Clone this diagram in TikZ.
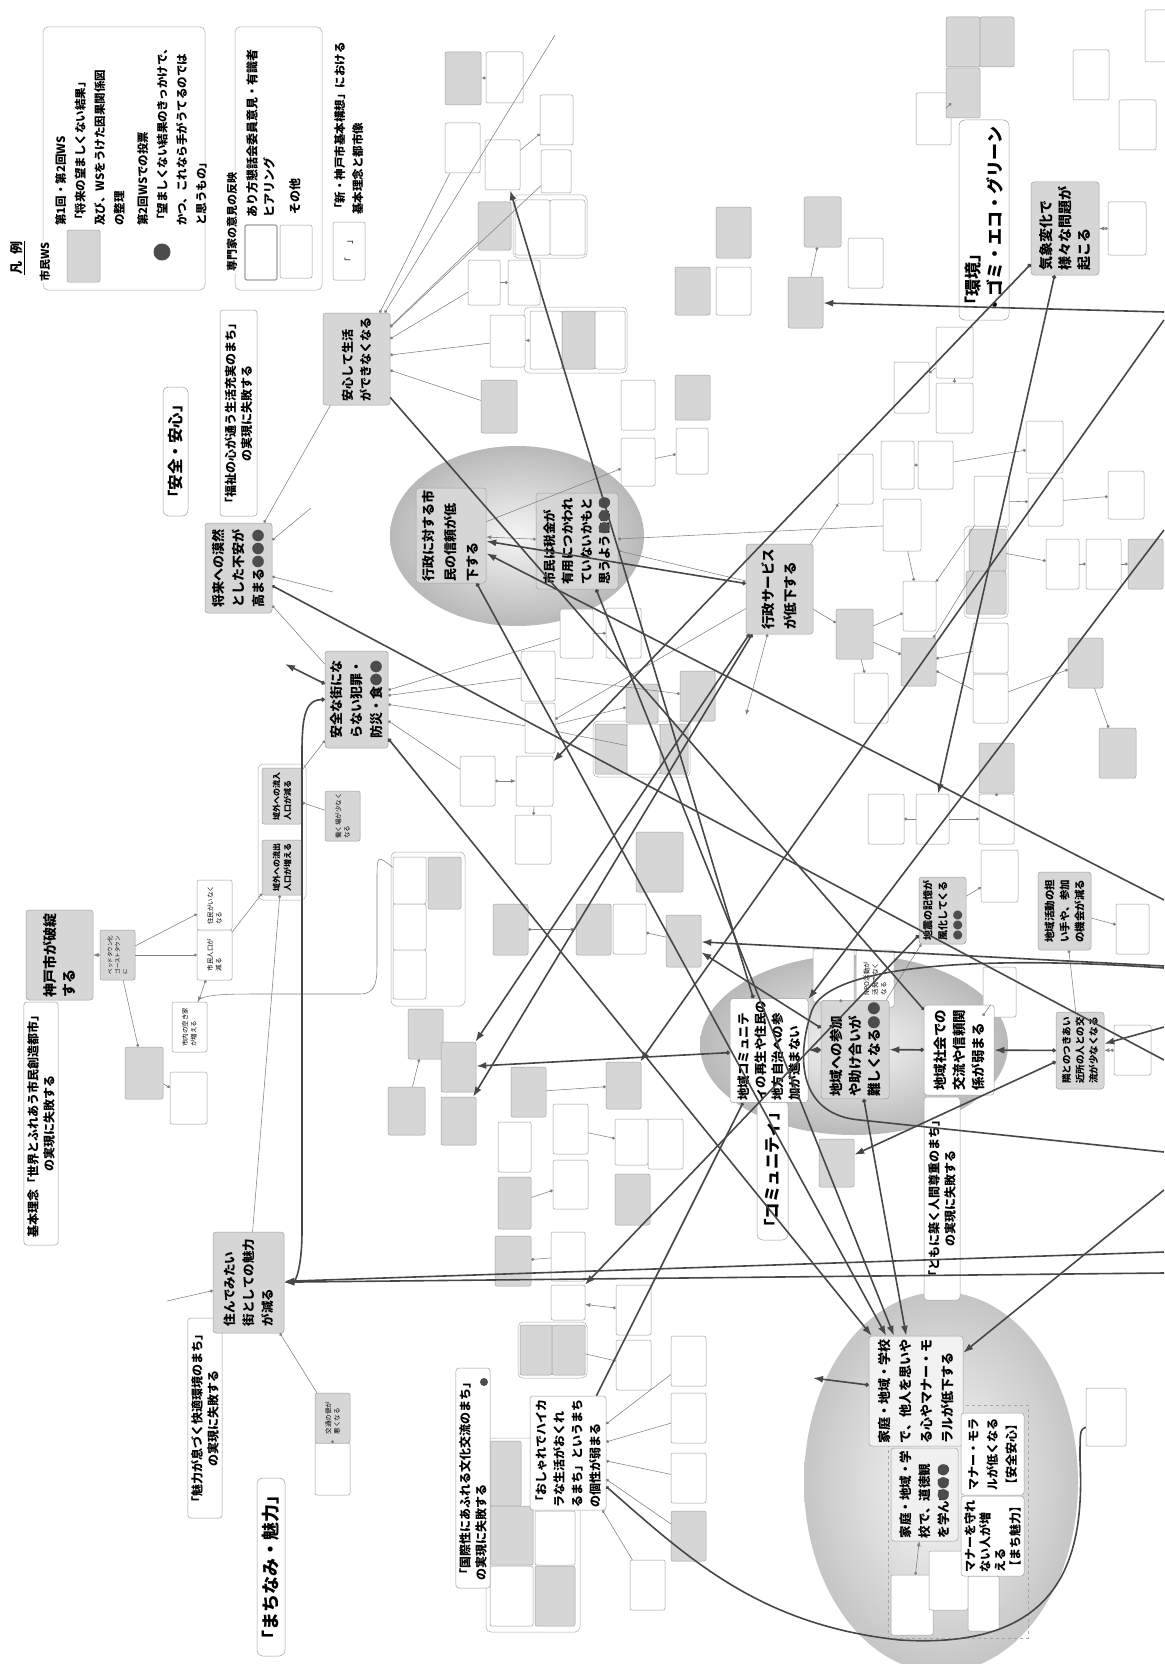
\documentclass[tikz,border=0pt]{standalone}
\usepackage{fontspec}
\setmainfont{Noto Sans CJK JP}
\usetikzlibrary{arrows.meta}
\definecolor{gb}{gray}{0.84}
\definecolor{wb}{gray}{1}
\newcommand\votedots[1]{\textcolor{black!70}{#1}}
\begin{document}
\begin{tikzpicture}[x=1pt,y=-1pt,line width=0.5pt,
    sbox/.style={draw=gray!75,rounded corners=2pt,inner sep=0pt},
    tbox/.style={draw=gray!75,rounded corners=2pt,rotate=90,inner sep=1pt,align=left,
      font=\fontsize{6.5}{8.5}\selectfont},
    mainbox/.style={draw=gray!75,rounded corners=3pt,rotate=90,inner sep=2pt,align=left,
      font=\bfseries\fontsize{12.5}{19}\selectfont},
    goalbox/.style={draw=gray!75,fill=white,rounded corners=3pt,rotate=90,align=center,
      font=\bfseries\fontsize{12}{16}\selectfont},
    themebox/.style={draw=gray!75,fill=white,rounded corners=6pt,rotate=90,align=left,
      font=\bfseries\fontsize{17}{22}\selectfont},
    grp/.style={draw=gray!65,rounded corners=5pt},
    lgtext/.style={rotate=90,anchor=north west,align=left,inner sep=0pt,
      font=\bfseries\fontsize{11.5}{19.5}\selectfont},
    heavy/.style={draw=black!72,line width=1.6pt},
    thin/.style={draw=black!50,line width=0.55pt},
    dotarrow/.style={{Circle[length=4pt]}-{Latex[length=10pt,width=7pt]}},
    tiparrow/.style={-{Latex[length=10pt,width=7pt]}},
    dotline/.style={{Circle[length=3pt]}-},
    thinarrow/.style={{Circle[length=3pt]}-{Latex[length=5pt,width=4pt]}}]

\useasboundingbox (0,0) rectangle (1164,1664);
\fill[white] (0,0) rectangle (1164,1664);

\shade[inner color=gray!8,outer color=gray!55] (517,536) ellipse [x radius=127,y radius=90];
\shade[inner color=gray!8,outer color=gray!55] (854,1045) ellipse [x radius=154,y radius=90];
\shade[inner color=gray!5,outer color=gray!45] (941,1482) ellipse [x radius=137,y radius=190];

\node[grp,minimum width=162,minimum height=263] (leg1) at (124,158.5) {};
\node[grp,minimum width=87,minimum height=263] (leg2) at (278.5,158.5) {};
\node[rotate=90,font=\bfseries\fontsize{13}{13}\selectfont] (legtitle) at (18,258) {\underline{凡\hspace{0.6em}例}};
\node[rotate=90,fill=white,inner sep=1pt,font=\bfseries\fontsize{11}{11}\selectfont] (legws) at (45,262) {市民WS};
\node[sbox,fill=gb,minimum width=33,minimum height=52] (legsw) at (83.5,256) {};
\node[lgtext] (legt1) at (55,226) {第1回・第2回WS\\「将来の望ましくない結果」\\及び、WSをうけた因果関係図\\の整理};
\node[circle,fill=black!70,minimum size=17,inner sep=0pt] (legdot) at (162,252) {};
\node[lgtext] (legt2) at (137,226) {第2回WSでの投票\\「望ましくない結果のきっかけで、\\かつ、これなら手がうてるのでは\\と思うもの」};
\node[rotate=90,fill=white,inner sep=1pt,font=\bfseries\fontsize{11}{11}\selectfont] (legpro) at (232,222) {専門家の意見の反映};
\node[sbox,line width=1.2pt,minimum width=32,minimum height=55] (legsw2) at (261,252.5) {};
\node[sbox,minimum width=32,minimum height=53] (legsw3) at (296,251.5) {};
\node[lgtext,font=\bfseries\fontsize{12}{17}\selectfont] (legt3) at (246,218) {あり方懇話会委員意見・有識者\\ヒアリング};
\node[lgtext,font=\bfseries\fontsize{12}{17}\selectfont] (legt4) at (289,215) {その他};
\node[sbox,rotate=90,minimum width=58,minimum height=32,font=\fontsize{9}{9}\selectfont] (legsw4) at (349,251) {「\hspace{1.5em}」};
\node[lgtext,font=\bfseries\fontsize{11.5}{18}\selectfont] (legt5) at (334,215) {「新・神戸市基本構想」における\\基本理念と都市像};

\foreach \n/\x/\y/\w/\h in {g1/282/832/48/136, g2/550/226.5/74/63, g3/575.5/340/103/66,
    g4/641.5/749/97/56, g5/428/929/74/154, g6/552.5/1350/69/56, g7/533/1535/94/194,
    g8/986/572/44/92}
  \node[grp,minimum width=\w,minimum height=\h] (\n) at (\x,\y) {};
\node[draw=gray!70,dashed,minimum width=140,minimum height=233] (kgrp) at (958,1521.5) {};

\foreach \n/\x/\y/\w/\h/\f in {
    s1/463/78.5/36/53/gb, s2/504.5/77.5/37/51/wb, s3/462.5/148/35/50/wb, s4/502.5/165/35/50/wb,
    s5/556.5/120/33/50/wb, s6/556/171.5/30/43/wb, s7/494.5/226/33/48/gb, s8a/532.5/227.5/35/55/wb,
    s8b/567.5/227.5/35/55/wb, s9/484/282.5/32/45/wb, s10/524/282.5/32/45/wb, s11/507.5/341/35/52/wb,
    s12a/546/340/32/58/wb, s12b/578.5/340/33/58/gb, s12c/610/340/30/58/wb, s13/499/406.5/36/53/gb,
    s14/638/405/34/50/wb, s15/692.5/397.5/35/45/gb, s16/692.5/291/35/48/gb, s17/733.5/291/35/48/wb,
    s18/733.5/232.5/35/51/gb, s19/822.5/222/37/50/gb, s20/865.5/263/35/50/wb, s21/933.5/119/35/52/wb,
    s22a/963/42/34/50/gb, s22b/997/42/34/50/gb, s22c/963/93/34/50/gb, s23/1091/75/36/50/wb,
    s24/1137.5/125/37/50/wb, s25/1127/228.5/38/53/wb, s26/954.5/352.5/37/51/wb, s27/911.5/387.5/35/51/wb,
    s28/954.5/408/37/50/wb, s29/1160/36/30/52/wb, s30/638/462/34/48/wb, s31/692/451/32/46/wb,
    s32/576.5/633.5/33/49/wb, s33/623.5/633/35/50/wb, s34/538/676/34/50/wb, s35/540/728/30/50/wb,
    s36/642/703.5/32/39/gb, s37/697.5/696/35/50/gb, s38a/611/749/32/50/gb, s38b/643.5/749/33/50/wb,
    s38c/674/749/28/50/gb, K1/534.5/781/37/50/wb, s39/477.5/781/35/50/wb, s40/855.5/479/35/50/wb,
    s41/897.5/465/33/48/wb, s42/935.5/465/35/48/wb, s43/902/525/38/52/wb, s44/919.5/606/33/50/wb,
    s45/854.5/634/37/50/gb, s46/918.5/662/35/48/gb, s47/871/698/34/50/wb, s48/991.5/501/35/50/wb,
    s49/987.5/550/37/42/gb, s50/986/592.5/40/43/gb, s51/990.5/648/35/50/wb, s52/990.5/698.5/35/49/wb,
    s53/1044.5/447/37/52/wb, s54/1045.5/502/35/48/wb, s55/1062.5/564/33/50/wb, s56/1103.5/564/35/50/wb,
    s57/1145.5/564/35/50/gb, s58/1126/495/36/48/wb, s59/1085.5/663/35/50/gb, s60/1117.5/753/37/50/gb,
    s61/996.5/768/35/50/gb, s62/996.5/819/35/50/wb, s63/932.5/819/33/50/wb, s64/886/819/36/50/wb,
    s65/533/839.5/36/49/wb, s66/659.5/862/47/60/gb, s67a/409.5/880.5/33/47/wb, s67b/444.5/883/33/52/gb,
    s67c/409.5/927/33/46/wb, s67d/409.5/974.5/33/49/wb, s68/510.5/929.5/35/51/gb, s69/593.5/929.5/35/51/gb,
    s70/629.5/929/33/50/wb, s71/683.5/941/35/52/gb, s72/425.5/1034/35/50/gb, G1/458.5/1067/35/50/gb,
    G2/458.5/1121/35/48/gb, s73/406.5/1111/37/48/gb, s74/528.5/1092/35/50/gb, s75/623.5/1085.5/35/47/gb,
    s76/570.5/1129/35/50/wb, s77/631.5/1142/33/46/wb, s78/665.5/1144/35/50/wb, s79/632.5/1199.5/35/51/gb,
    s80/570.5/1184.5/35/49/wb, s81/514.5/1203/33/52/gb, s82/514.5/1147/33/50/wb, s83/833.5/975.5/41/53/wb,
    s85/999.5/992/33/50/wb, s86/1132.5/929/33/50/wb, s87/1132.5/1050/37/50/wb, s88/999.5/876/37/52/wb,
    rinjin/836.5/1163/35/48/gb, s93/144/1073/38/52/gb, s94/188.5/1098/37/52/wb, s95/332.5/1469/35/52/wb,
    s96/688.5/1361/35/50/wb, s97/688.5/1418/35/50/wb, s98/688.5/1478/35/50/wb, s99/688.5/1536/35/50/gb,
    s100/647.5/1585/35/50/wb, s101/633.5/1365/35/50/wb, s102/633.5/1310/35/50/wb, s103a/536/1350/32/50/gb,
    s103b/568.5/1350/33/50/gb, s104a/505.5/1473.5/31/65/gb, s104b/511.5/1535.5/43/59/gb,
    s104c/511.5/1596/43/60/wb, s104d/555/1596/40/60/gb, s104e/555/1538/40/54/wb, s105/568/1256.5/34/49/wb,
    s106/568/1302.5/34/35/wb, s107/513/1261/36/50/gb, s108/912/1605/42/60/wb, s109/948.5/1580.5/39/59/wb,
    s110/983.5/1603.5/31/55/wb, s111/1106/1417/40/58/wb, ozon/805.5/302.5/35/51/gb}
  \node[sbox,fill=\f,minimum width=\w,minimum height=\h] (\n) at (\x,\y) {};

\node[tbox,fill=gb,minimum width=56,minimum height=40,font=\bfseries\fontsize{8}{11}\selectfont] (ryunyu) at (282,796) {域外への流入\\人口が減る};
\node[tbox,fill=gb,minimum width=55,minimum height=40,font=\bfseries\fontsize{8}{11}\selectfont] (ryushutsu) at (282,867.5) {域外への流出\\人口が増える};
\node[tbox,fill=gb,minimum width=50,minimum height=35] (hataraku) at (342.5,816) {働く場が少なく\\なる};
\node[tbox,fill=gb,minimum width=50,minimum height=35,font=\fontsize{5.5}{7.5}\selectfont] (bed) at (117.5,955) {ベッドタウン化\\ゴーストタウン\\に};
\node[tbox,fill=wb,minimum width=50,minimum height=35] (s90) at (214.5,905) {住民がいなく\\なる};
\node[tbox,fill=wb,minimum width=50,minimum height=35] (s91) at (214.5,955) {市民人口が\\減る};
\node[tbox,fill=wb,minimum width=50,minimum height=35] (s92) at (189.5,1027) {市内の空き家\\が増える};
\node[tbox,fill=gb,minimum width=50,minimum height=35] (kotsu) at (332.5,1418) {交通の便が\\悪くなる};
\node[tbox,fill=wb,minimum width=57,minimum height=38] (s84) at (875,978.5) {NPO活動が\\活発でなく\\なる};

\node[themebox,minimum width=129,minimum height=25,font=\bfseries\fontsize{15.5}{15.5}\selectfont] (anzenT) at (175.5,451.5) {「安全・安心」};
\node[themebox,minimum width=200,minimum height=50] (kankyoT) at (984,220) {「環境」\\・ゴミ・エコ・グリーン};
\node[themebox,minimum width=178,minimum height=28,font=\bfseries\fontsize{18}{18}\selectfont] (machiT) at (271,1567) {「まちなみ・魅力」};
\node[themebox,minimum width=140,minimum height=31,font=\bfseries\fontsize{16.5}{16.5}\selectfont] (commT) at (772.5,1170) {「コミュニティ」};

\node[goalbox,minimum width=206,minimum height=37] (fukushiG) at (238.5,413) {「福祉の心が通う生活充実のまち」\\の実現に失敗する};
\node[goalbox,minimum width=200,minimum height=34] (miryokuG) at (205,1418) {「魅力が息づく快適環境のまち」\\の実現に失敗する};
\node[goalbox,align=left,minimum width=220,minimum height=34] (kokusaiG) at (473,1478) {「国際性にあふれる文化交流のまち」\\の実現に失敗する};
\node[circle,fill=black!70,minimum size=8,inner sep=0pt] (kokusaiDot) at (484,1382) {};
\node[goalbox,minimum width=243,minimum height=32] (kihonG) at (41,1123.5) {基本理念「世界とふれあう市民創造都市」\\の実現に失敗する};
\node[goalbox,minimum width=203,minimum height=36] (tomoniG) at (942,1198.5) {「ともに築く人間尊重のまち」\\の実現に失敗する};

\node[mainbox,fill=gb,minimum width=92,minimum height=67,font=\bfseries\fontsize{12}{18}\selectfont] (anshin) at (356.5,359) {安心して生活\\ができなくなる};
\node[mainbox,fill=gb,minimum width=90,minimum height=67,font=\bfseries\fontsize{13}{20}\selectfont] (shorai) at (238.5,568) {将来への漠然\\とした不安が\\高まる\votedots{●●●}};
\node[mainbox,fill=gb,minimum width=97,minimum height=63,font=\bfseries\fontsize{13}{20}\selectfont] (anzen) at (356.5,699.5) {安全な街にな\\らない犯罪・\\防災・食\votedots{●●}};
\node[mainbox,fill=gb,minimum width=101,minimum height=71] (sumitai) at (248.5,1282.5) {住んでみたい\\街としての魅力\\が減る};
\node[mainbox,fill=gb,minimum width=90,minimum height=67,font=\bfseries\fontsize{14}{19}\selectfont] (kobe) at (59.5,955) {神戸市が破綻\\する};
\node[mainbox,fill=gb,minimum width=95,minimum height=70,font=\bfseries\fontsize{13}{22}\selectfont] (shinrai) at (451,535.5) {行政に対する市\\民の信頼が低\\下する};
\node[mainbox,fill=gb,minimum width=96,minimum height=82,font=\bfseries\fontsize{12.5}{18.5}\selectfont] (zeikin) at (577,541) {市民は税金が\\有用につかわれ\\ていないかもと\\思うようになる\llap{\votedots{●●●}}};
\node[mainbox,fill=gb,minimum width=90,minimum height=67,font=\bfseries\fontsize{13.5}{22}\selectfont] (gyosvc) at (779.5,589) {行政サービス\\が低下する};
\node[mainbox,fill=gb,minimum width=93,minimum height=68,font=\bfseries\fontsize{14}{19}\selectfont] (kisho) at (1065,228.5) {気象変化で\\様々な問題が\\起こる};
\node[mainbox,fill=white,minimum width=103,minimum height=78,font=\bfseries\fontsize{12.5}{17}\selectfont] (chcomm) at (769,1050.5) {地域コミュニテ\\ィの再生や住民の\\地方自治への参\\加が進まない};
\node[mainbox,fill=gb,minimum width=89,minimum height=68,font=\bfseries\fontsize{13.5}{19}\selectfont] (chsanka) at (855,1049.5) {地域への参加\\や助け合いが\\難しくなる\votedots{●●}};
\node[mainbox,fill=white,minimum width=90,minimum height=70,font=\bfseries\fontsize{13.5}{19}\selectfont] (chshakai) at (959,1050) {地域社会での\\交流や信頼関\\係が弱まる};
\node[mainbox,fill=gb,minimum width=77,minimum height=48,font=\bfseries\fontsize{9.5}{13.5}\selectfont] (tonari) at (1080,1050.5) {隣とのつきあい\\近所の人との交\\流が少なくなる};
\node[mainbox,fill=gb,minimum width=67,minimum height=47,font=\bfseries\fontsize{10}{15}\selectfont] (jishin) at (942.5,910.5) {地震の記憶が\\風化してくる\\\votedots{●●●}};
\node[mainbox,fill=gb,minimum width=78,minimum height=53,font=\bfseries\fontsize{10.5}{15}\selectfont] (ninaite) at (1064.5,911) {地域活動の担\\い手や、参加\\の機会が減る};
\node[mainbox,fill=gray!10,minimum width=110,minimum height=94,font=\bfseries\fontsize{13}{21}\selectfont] (katei) at (916,1391) {家庭・地域・学校\\で、他人を思いや\\る心やマナー・モ\\ラルが低下する};
\node[mainbox,fill=gray!12,minimum width=93,minimum height=67] (doutoku) at (924.5,1494.5) {家庭・地域・学\\校で、道徳観\\を学んでくる\llap{\votedots{●●●}}};
\node[mainbox,fill=white,minimum width=82,minimum height=63,font=\bfseries\fontsize{12}{19}\selectfont] (manner1) at (992.5,1454) {マナー・モラ\\ルが低くなる\\【安全安心】};
\node[mainbox,fill=white,minimum width=80,minimum height=63,font=\bfseries\fontsize{12}{15}\selectfont] (manner2) at (992.5,1536) {マナーを守れ\\ない人が増\\える\\【まち魅力】};
\node[mainbox,fill=white,minimum width=114,minimum height=76,font=\bfseries\fontsize{12}{18}\selectfont] (oshare) at (568,1453) {「おしゃれでハイカ\\ラな生活がおくれ\\るまち」というまち\\の個性が弱まる};

\coordinate (aKatei) at (813,1378);
\coordinate (aAnzen) at (285,664);
\coordinate (aGyo) at (746,715);
\coordinate (aAnshin) at (555,35);
\coordinate (aSh1) at (311,508);
\coordinate (aSh2) at (333,592);
\coordinate (aSumi) at (167,1301);
\coordinate (eR1) at (1164,312);
\coordinate (eR2) at (1164,1252);
\coordinate (eR3) at (1164,1273);
\coordinate (eR4) at (1164,1060);
\coordinate (eR5) at (1164,900);
\coordinate (eR6) at (1164,1190);
\coordinate (eR7) at (1164,1027);
\coordinate (eR10) at (1164,530);
\coordinate (eR11) at (1164,320);
\coordinate (eR12) at (1164,966);
\coordinate (eS1) at (1164,968);
\coordinate (eS2) at (1164,1152);

\foreach \p/\q in {anshin/s3, anshin/s7, anshin/s9, anshin/s11, anshin/s13, anshin/s6, anshin/aAnshin,
    s2/s1, s5/s4, s10/s9, s12a/s11, shorai/aSh1, shorai/aSh2, shorai/anshin, shorai/anzen,
    anzen/s32, anzen/s34, anzen/s35, anzen/s39, anzen/ryunyu, ryunyu/hataraku, s31/s30, s30/shinrai,
    zeikin/s43, zeikin/gyosvc, s33/s32, s35/s38b, s35/gyosvc, s36/s35, s37/s34, s40/gyosvc, s42/s41,
    s53/s42, s44/s43, s44/s45, s46/s45, s45/gyosvc, s47/s45, s46/s49, s46/s51, s46/s52, s44/s48,
    s55/s49, s56/s55, s57/s56, s54/s48, s58/s54, s59/s52, s60/s59, s62/s63, s64/s63, s19/ozon,
    s21/s22c, s70/s71, s75/s74, s77/s76, s80/s81, s72/s73, s90/bed, s91/bed, s93/bed, ryushutsu/s91,
    s94/s93, ryushutsu/sumitai, sumitai/kotsu, sumitai/aSumi, kotsu/s95, oshare/s96, oshare/s97,
    oshare/s98, oshare/s99, oshare/s100, s101/s103b, s107/s105, s83/chsanka, s85/chshakai,
    s88/jishin, s86/ninaite, ninaite/tonari, jishin/chsanka, s61/s62, s27/s26, s28/s26, s65/K1}
  \draw[thin,dotline] (\p) -- (\q);
\foreach \p/\q in {zeikin/shinrai, s25/kisho, bed/kobe, s91/s92, s68/s69, s39/K1, s87/tonari,
    gyosvc/aGyo, s102/s106, s108/doutoku}
  \draw[thin,thinarrow] (\p) -- (\q);
\draw[thin] (s92) .. controls (200,994) and (230,994) .. (260,994) -- (360,994)
  .. controls (377,994) and (377,980) .. (377,960) -- (377,880) .. controls (377,855) .. (s67a);

\draw[heavy,dotarrow] (kisho) -- (K1);
\draw[heavy,dotarrow] (kisho) -- (s63);
\draw[heavy,tiparrow] (eR1) -- (ozon);
\draw[heavy,tiparrow] (eR2) -- (sumitai);
\draw[heavy,tiparrow] (eR3) -- (sumitai);
\draw[heavy,dotline] (shorai) -- (eR4);
\draw[heavy,tiparrow] (eR5) -- (shinrai);
\draw[heavy,dotarrow] (gyosvc) -- (shinrai);
\draw[heavy,dotline] (chshakai) -- (anshin);
\draw[heavy,dotarrow] (gyosvc) -- (G1);
\draw[heavy,dotarrow] (gyosvc) -- (G2);
\draw[heavy,dotarrow] (chcomm) -- (G1);
\draw[heavy,dotarrow] (anzen) -- (katei);
\draw[heavy,dotarrow] (shinrai) -- (katei);
\draw[heavy,dotarrow] (zeikin) -- (katei);
\draw[heavy,dotarrow] (chsanka) -- (katei);
\draw[heavy,dotarrow] (katei) -- (aKatei);
\draw[heavy,tiparrow] (eR6) -- (katei);
\draw[heavy,dotarrow] (tonari) -- (chshakai);
\draw[heavy,dotarrow] (chshakai) -- (chsanka);
\draw[heavy,dotarrow] (chsanka) -- (chcomm);
\draw[heavy,dotarrow] (tonari) -- (rinjin);
\draw[heavy,tiparrow] (eR7) -- (tonari);
\draw[heavy,tiparrow] (eR10) -- (chcomm);
\draw[heavy,tiparrow] (eR11) -- (s75);
\draw[heavy,tiparrow] (eR12) -- (s71);
\draw[heavy,dotarrow] (chsanka) -- (s71);
\draw[heavy,dotarrow] (anzen) -- (aAnzen);
\draw[heavy,dotline] (chcomm) -- (oshare);
\draw[heavy,dotarrow] (jishin) -- (s106);
\draw[heavy,dotarrow] (chcomm) -- (s4);
\draw[heavy,dotarrow] (anzen.north) .. controls (300,700) and (302,730) .. (302,780) -- (302,1230)
  .. controls (302,1270) and (295,1282) .. (sumitai.south);
\draw[heavy] (eS1) .. controls (980,955) and (830,965) .. (812,1010)
  .. controls (795,1060) and (800,1115) .. (860,1120) -- (eS2);
\draw[heavy,dotline] (oshare) .. controls (690,1560) and (760,1625) .. (900,1640)
  .. controls (1060,1650) and (1085,1560) .. (1080,1460) .. controls (1080,1430) .. (s111);
\end{tikzpicture}
\end{document}
